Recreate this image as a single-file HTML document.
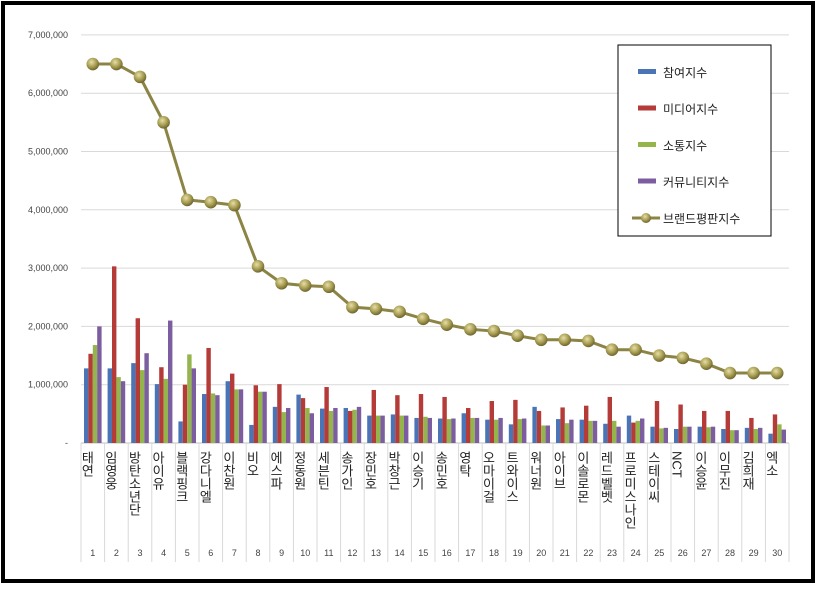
<!DOCTYPE html>
<html><head><meta charset="utf-8"><style>
body{margin:0;background:#fff;}
svg text{font-family:"Liberation Sans","Noto Sans CJK KR",sans-serif;}
</style></head><body>
<svg id="c" width="818" height="586" xmlns="http://www.w3.org/2000/svg">
<defs>
<radialGradient id="dot" cx="40%" cy="35%" r="65%"><stop offset="0" stop-color="#e6dfa6"/><stop offset="0.6" stop-color="#a69b50"/><stop offset="1" stop-color="#6f6630"/></radialGradient>
</defs>
<rect x="3" y="3" width="810" height="578" fill="#fff" stroke="#000" stroke-width="4"/>
<g id="grid"></g><g id="bars"></g><g id="line"></g><g id="xl"></g>
<g>
<rect x="618" y="45" width="153" height="191" fill="#fff" stroke="#000" stroke-width="1"/>
<g id="leg"></g>
</g>
</svg>
<script>
const categories=["태연","임영웅","방탄소년단","아이유","블랙핑크","강다니엘","이찬원","비오","에스파","정동원","세븐틴","송가인","장민호","박창근","이승기","송민호","영탁","오마이걸","트와이스","워너원","아이브","이솔로몬","레드벨벳","프로미스나인","스테이씨","NCT","이승윤","이무진","김희재","엑소"];
const participation=[1.28,1.28,1.37,1.01,0.37,0.84,1.06,0.31,0.62,0.83,0.59,0.6,0.47,0.49,0.43,0.42,0.51,0.4,0.32,0.62,0.41,0.4,0.33,0.47,0.28,0.24,0.28,0.24,0.26,0.16];
const media=[1.53,3.03,2.14,1.3,1.0,1.63,1.19,0.99,1.01,0.77,0.96,0.55,0.91,0.82,0.84,0.79,0.6,0.72,0.74,0.55,0.61,0.64,0.79,0.35,0.72,0.66,0.55,0.55,0.43,0.49];
const communication=[1.68,1.13,1.25,1.1,1.52,0.85,0.92,0.88,0.53,0.6,0.55,0.57,0.47,0.47,0.45,0.41,0.43,0.4,0.41,0.3,0.34,0.38,0.38,0.38,0.25,0.28,0.27,0.22,0.24,0.32];
const community=[2.0,1.06,1.54,2.1,1.28,0.82,0.92,0.88,0.6,0.51,0.6,0.62,0.47,0.47,0.43,0.42,0.43,0.43,0.42,0.3,0.4,0.38,0.28,0.42,0.26,0.28,0.28,0.22,0.26,0.23];
const brand=[6.5,6.5,6.28,5.5,4.17,4.13,4.08,3.03,2.74,2.7,2.68,2.33,2.3,2.25,2.13,2.03,1.95,1.92,1.84,1.77,1.77,1.75,1.6,1.6,1.5,1.46,1.36,1.2,1.2,1.2];
const yTicks=[0,1,2,3,4,5,6,7];
const yTickLabels=["-","1,000,000","2,000,000","3,000,000","4,000,000","5,000,000","6,000,000","7,000,000"];
const seriesNames=["참여지수","미디어지수","소통지수","커뮤니티지수","브랜드평판지수"];
const NS="http://www.w3.org/2000/svg";
const x0=81,step=23.6,y0=443,pxPerM=58.3;
const y=v=>y0-v*pxPerM;
const xc=i=>x0+step*(i+0.5);
function mk(tag,attrs,parent){const e=document.createElementNS(NS,tag);for(const k in attrs)e.setAttribute(k,attrs[k]);parent.appendChild(e);return e;}
const grid=document.getElementById('grid');
yTicks.forEach((t,i)=>{
 if(t>0){const l=mk('line',{x1:x0,x2:x0+step*30,y1:y(t),y2:y(t),stroke:'#d9d9d9','stroke-width':1},grid);
 
 }
 const tx=mk('text',{x:68,y:y(t)+3,'text-anchor':'end','font-size':9,fill:'#444'},grid);
 tx.textContent=yTickLabels[i];
 
 
});
mk('line',{x1:x0,x2:x0+step*30,y1:y0,y2:y0,stroke:'#bfbfbf'},grid);
for(let i=0;i<=30;i++){mk('line',{x1:x0+step*i,x2:x0+step*i,y1:y0,y2:562,stroke:'#d9d9d9'},grid);}
const colors=["#4a74b5","#b43b38","#94b54c","#7b5da0"];
const series=[participation,media,communication,community];
const bars=document.getElementById('bars');
const bw=4.4;
series.forEach((s,si)=>{s.forEach((v,i)=>{
 const bx=xc(i)-2*bw+si*bw;
 const r=mk('rect',{x:bx,y:y(v),width:bw,height:v*pxPerM,fill:colors[si]},bars);
 
 
});});
const lg=document.getElementById('line');
const pts=brand.map((v,i)=>xc(i)+','+y(v)).join(' ');
mk('polyline',{points:pts,fill:'none',stroke:'#8c8445','stroke-width':3},lg);
brand.forEach((v,i)=>{const c=mk('circle',{cx:xc(i),cy:y(v),r:6.3,fill:'url(#dot)'},lg);
 
 });
const xl=document.getElementById('xl');
categories.forEach((c,i)=>{
 const t=mk('text',{x:xc(i)-6,y:451,'font-size':13,fill:'#222','writing-mode':'tb','glyph-orientation-vertical':0,style:'writing-mode:vertical-lr;text-orientation:mixed'},xl);
 t.textContent=c;
 
 
 const n=mk('text',{x:xc(i),y:556,'font-size':9,'text-anchor':'middle',fill:'#444'},xl);
 n.textContent=String(i+1);
 
 
});
const leg=document.getElementById('leg');
seriesNames.forEach((nm,i)=>{
 const ly=72+i*36.5;
 if(i<4){mk('rect',{x:638,y:ly-3,width:18,height:5,fill:colors[i]},leg);}
 else{mk('line',{x1:632,x2:660,y1:ly,y2:ly,stroke:'#8c8445','stroke-width':3},leg);mk('circle',{cx:646,cy:ly,r:5,fill:'url(#dot)'},leg);}
 const t=mk('text',{x:663,y:ly+5,'font-size':12,fill:'#222'},leg);
 t.textContent=nm;
 
 
});
</script>
</body></html>
